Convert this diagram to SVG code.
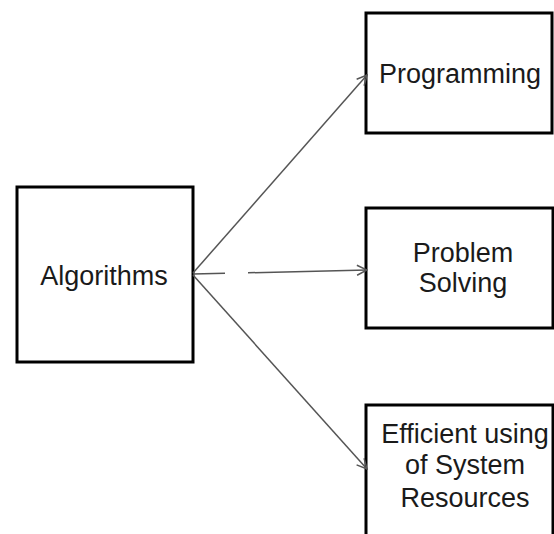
<svg xmlns="http://www.w3.org/2000/svg" width="554" height="534" viewBox="0 0 554 534">
  <style>
    .box { fill: #ffffff; stroke: #000000; stroke-width: 3; }
    .label { font-family: "Liberation Sans", Arial, sans-serif; font-size: 27px; fill: #1a1a1a; text-anchor: middle; }
    .edge { fill: none; stroke: #555555; stroke-width: 1.5; }
  </style>
  <defs>
    <marker id="arrow" viewBox="0 0 12 12" refX="11" refY="6" markerWidth="12" markerHeight="12" markerUnits="userSpaceOnUse" orient="auto">
      <path d="M1,1 L11,6 L1,11" fill="none" stroke="#555555" stroke-width="1.5"/>
    </marker>
  </defs>
  <rect width="554" height="534" fill="#ffffff"/>

  <g id="algorithms">
    <rect class="box" x="17" y="187" width="176" height="175"/>
    <text class="label" x="104" y="285">Algorithms</text>
  </g>

  <g id="programming">
    <rect class="box" x="366" y="13" width="186" height="120"/>
    <text class="label" x="460" y="83">Programming</text>
  </g>

  <g id="problem-solving">
    <rect class="box" x="366" y="208" width="187" height="120"/>
    <text class="label" x="463" y="262">Problem</text>
    <text class="label" x="463" y="292">Solving</text>
  </g>

  <g id="efficient-resources">
    <rect class="box" x="366" y="405" width="187" height="140"/>
    <text class="label" x="465" y="443">Efficient using</text>
    <text class="label" x="465" y="474">of System</text>
    <text class="label" x="465" y="507">Resources</text>
  </g>

  <g id="connectors">
    <line class="edge" x1="193" y1="273" x2="367" y2="75" marker-end="url(#arrow)"/>
    <line class="edge" x1="193" y1="274" x2="225" y2="273.3"/>
    <line class="edge" x1="248" y1="272.8" x2="367" y2="270" marker-end="url(#arrow)"/>
    <line class="edge" x1="193" y1="275" x2="367" y2="469" marker-end="url(#arrow)"/>
  </g>
</svg>
